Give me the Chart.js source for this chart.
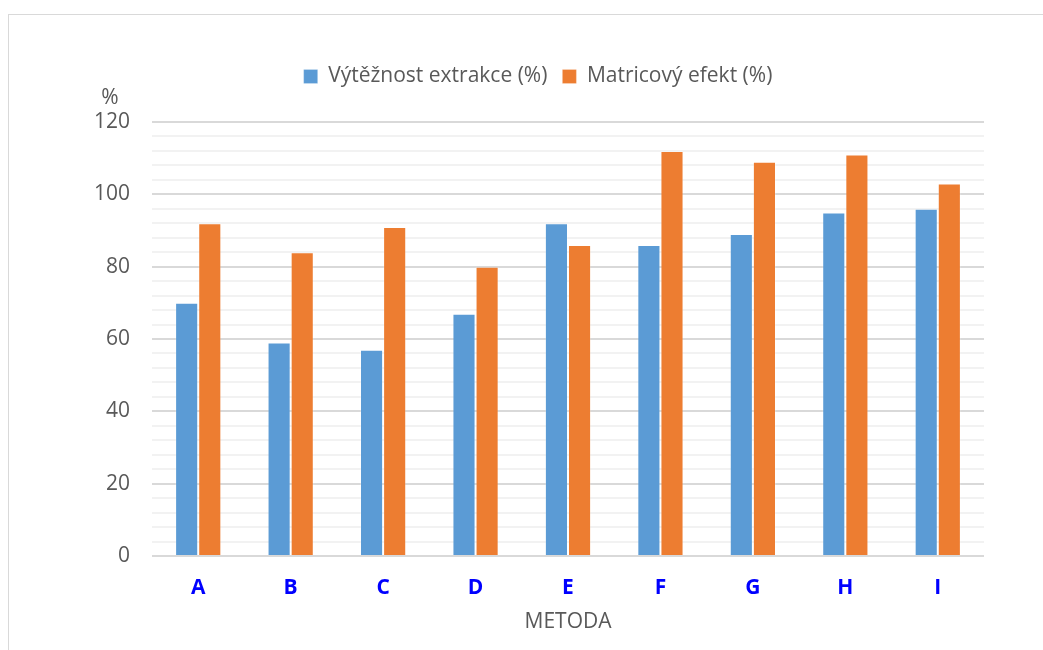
<!DOCTYPE html>
<html>
<head>
<meta charset="utf-8">
<script src="https://cdn.jsdelivr.net/npm/chart.js@4/dist/chart.umd.min.js"></script>
<style>
  html, body { margin: 0; padding: 0; background: #fff; overflow: hidden; }
  #frame { position: absolute; left: 8px; top: 14px; width: 1100px; height: 700px; border: 1px solid #d9d9d9; box-sizing: border-box; }
  #wrap { position: absolute; left: 0; top: 0; width: 1043px; height: 650px; }
</style>
</head>
<body>
<div id="frame"></div>
<div id="wrap"><canvas id="chart"></canvas></div>
<script>
// Methods compared
const categories = ['A', 'B', 'C', 'D', 'E', 'F', 'G', 'H', 'I'];
// Extraction recovery per method (%)
const recovery = [70, 59, 57, 67, 92, 86, 89, 95, 96];
// Matrix effect per method (%)
const matrixEffect = [92, 84, 91, 80, 86, 112, 109, 111, 103];
// Value axis
const yMin = 0, yMax = 120, yMajor = 20, yMinor = 4;

const FONT = "'Open Sans', 'Noto Sans', sans-serif";
const GREY = '#595959';

// Extra room under the legend, before the plot starts
const legendSpacer = {
  id: 'legendSpacer',
  beforeInit(chart) {
    const fit = chart.legend.fit;
    chart.legend.fit = function () {
      fit.call(this);
      this.height += 25;
    };
  }
};

// Unit label above the value axis
const unitLabel = {
  id: 'unitLabel',
  afterDraw(chart) {
    const y = chart.scales.y;
    const ctx = chart.ctx;
    ctx.save();
    ctx.font = `21px ${FONT}`;
    ctx.fillStyle = GREY;
    ctx.textAlign = 'center';
    ctx.textBaseline = 'middle';
    ctx.fillText('%', y.right - 42, y.top - 24);
    ctx.restore();
  }
};

new Chart(document.getElementById('chart'), {
  type: 'bar',
  data: {
    labels: categories,
    datasets: [
      {
        label: 'Výtěžnost extrakce (%)',
        data: recovery,
        backgroundColor: '#5B9BD5',
        borderColor: 'rgba(255,255,255,0.22)',
        borderWidth: 1,
        categoryPercentage: 0.5,
        barPercentage: 1.0
      },
      {
        label: 'Matricový efekt (%)',
        data: matrixEffect,
        backgroundColor: '#ED7D31',
        borderColor: 'rgba(255,255,255,0.22)',
        borderWidth: 1,
        categoryPercentage: 0.5,
        barPercentage: 1.0
      }
    ]
  },
  options: {
    responsive: true,
    maintainAspectRatio: false,
    animation: false,
    layout: { padding: { left: 92, right: 59, top: 51, bottom: 15 } },
    plugins: {
      legend: {
        position: 'top',
        labels: {
          font: { family: FONT, size: 21 },
          color: GREY,
          boxWidth: 14,
          boxHeight: 14,
          padding: 15
        }
      },
      tooltip: { enabled: false }
    },
    scales: {
      x: {
        afterFit(scale) { scale.height = 79; },
        grid: { display: false, drawTicks: false },
        border: { display: false },
        ticks: {
          color: '#0000FF',
          font: { family: FONT, size: 21, weight: 'bold' },
          padding: 19
        },
        title: {
          display: true,
          text: 'METODA',
          color: GREY,
          font: { family: FONT, size: 21 },
          padding: { top: 10, bottom: 0 }
        }
      },
      y: {
        min: yMin,
        max: yMax,
        afterFit(scale) { scale.width = 60; },
        border: { display: false },
        grid: {
          drawTicks: false,
          lineWidth: 2,
          color: (ctx) => (ctx.tick && ctx.tick.value % yMajor === 0) ? '#D9D9D9' : '#F2F2F2'
        },
        ticks: {
          stepSize: yMinor,
          autoSkip: false,
          padding: 22,
          color: GREY,
          font: { family: FONT, size: 21 },
          callback: (v) => (v % yMajor === 0 ? v : '')
        }
      }
    }
  },
  plugins: [legendSpacer, unitLabel]
});
</script>
</body>
</html>
